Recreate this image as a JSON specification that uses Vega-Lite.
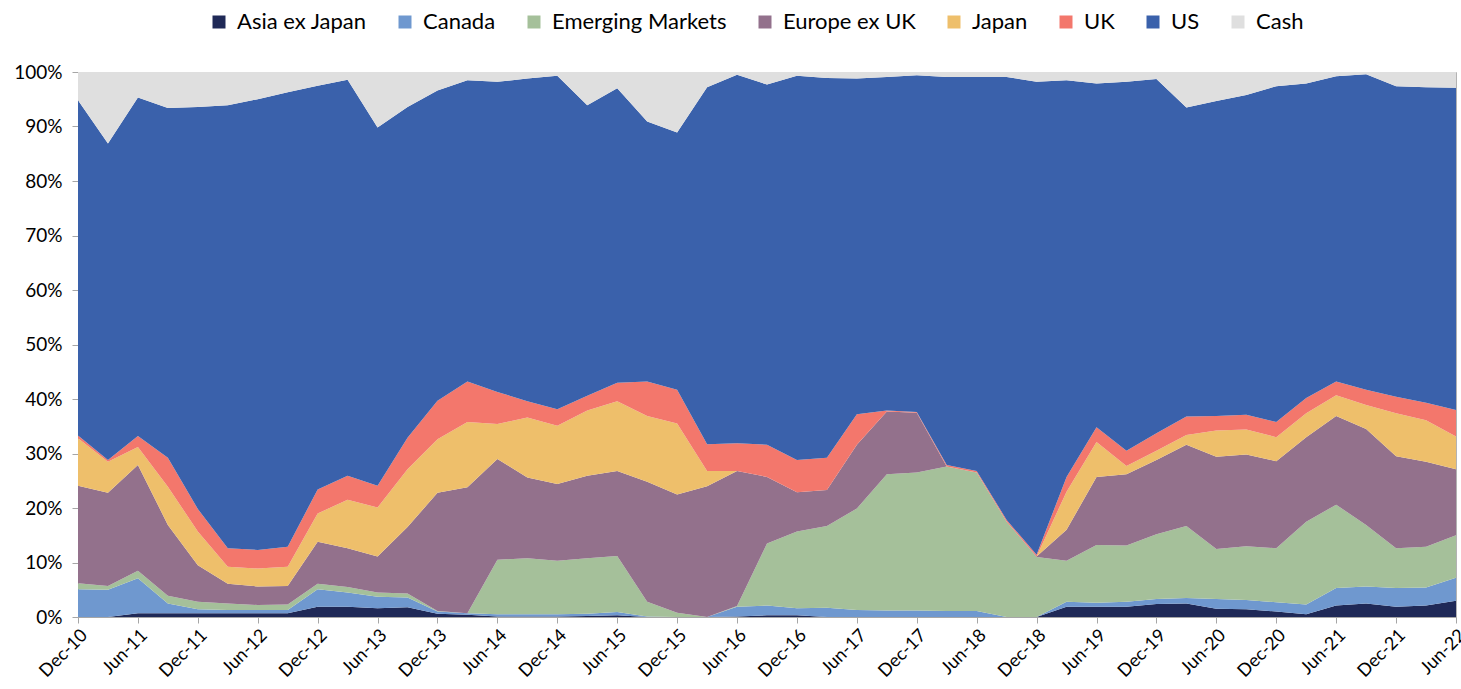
{
"$schema": "https://vega.github.io/schema/vega-lite/v6.json",
"autosize": "none",
"width": 1378,
"height": 545,
"padding": {"left": 78, "top": 72, "right": 5, "bottom": 72},
"background": "white",
"config": {"font": "Lato", "view": {"stroke": "#b3b3b3", "strokeWidth": 1}},
"data": {"values": [
{"date":"Dec-10","Asia ex Japan":0,"Canada":5.1,"Emerging Markets":1.1,"Europe ex UK":17.9,"Japan":8.7,"UK":0.5,"US":61.5,"Cash":5.2},
{"date":"Mar-11","Asia ex Japan":0,"Canada":5.0,"Emerging Markets":0.7,"Europe ex UK":17.1,"Japan":5.7,"UK":0.3,"US":58.1,"Cash":13.1},
{"date":"Jun-11","Asia ex Japan":0.7,"Canada":6.4,"Emerging Markets":1.4,"Europe ex UK":19.4,"Japan":3.3,"UK":2.0,"US":62.1,"Cash":4.7},
{"date":"Sep-11","Asia ex Japan":0.7,"Canada":1.8,"Emerging Markets":1.4,"Europe ex UK":13.0,"Japan":7.0,"UK":5.3,"US":64.2,"Cash":6.6},
{"date":"Dec-11","Asia ex Japan":0.7,"Canada":0.7,"Emerging Markets":1.4,"Europe ex UK":6.7,"Japan":6.2,"UK":4.1,"US":73.8,"Cash":6.4},
{"date":"Mar-12","Asia ex Japan":0.7,"Canada":0.6,"Emerging Markets":1.2,"Europe ex UK":3.6,"Japan":3.1,"UK":3.4,"US":81.3,"Cash":6.1},
{"date":"Jun-12","Asia ex Japan":0.7,"Canada":0.6,"Emerging Markets":0.9,"Europe ex UK":3.4,"Japan":3.3,"UK":3.4,"US":82.7,"Cash":5.0},
{"date":"Sep-12","Asia ex Japan":0.7,"Canada":0.6,"Emerging Markets":1.0,"Europe ex UK":3.4,"Japan":3.5,"UK":3.7,"US":83.4,"Cash":3.7},
{"date":"Dec-12","Asia ex Japan":1.9,"Canada":3.2,"Emerging Markets":1.0,"Europe ex UK":7.7,"Japan":5.2,"UK":4.4,"US":74.1,"Cash":2.5},
{"date":"Mar-13","Asia ex Japan":1.9,"Canada":2.6,"Emerging Markets":1.0,"Europe ex UK":7.1,"Japan":8.9,"UK":4.4,"US":72.7,"Cash":1.4},
{"date":"Jun-13","Asia ex Japan":1.6,"Canada":2.1,"Emerging Markets":0.8,"Europe ex UK":6.6,"Japan":9.0,"UK":4.0,"US":65.7,"Cash":10.2},
{"date":"Sep-13","Asia ex Japan":1.8,"Canada":1.8,"Emerging Markets":0.7,"Europe ex UK":12.2,"Japan":10.6,"UK":5.8,"US":60.7,"Cash":6.4},
{"date":"Dec-13","Asia ex Japan":0.6,"Canada":0.4,"Emerging Markets":0.1,"Europe ex UK":21.7,"Japan":9.8,"UK":7.1,"US":56.9,"Cash":3.4},
{"date":"Mar-14","Asia ex Japan":0.4,"Canada":0.3,"Emerging Markets":0,"Europe ex UK":23.1,"Japan":12.0,"UK":7.4,"US":55.3,"Cash":1.5},
{"date":"Jun-14","Asia ex Japan":0.1,"Canada":0.4,"Emerging Markets":10.0,"Europe ex UK":18.5,"Japan":6.4,"UK":5.9,"US":56.9,"Cash":1.8},
{"date":"Sep-14","Asia ex Japan":0.1,"Canada":0.4,"Emerging Markets":10.3,"Europe ex UK":14.8,"Japan":11.0,"UK":3.0,"US":59.2,"Cash":1.2},
{"date":"Dec-14","Asia ex Japan":0.1,"Canada":0.4,"Emerging Markets":9.8,"Europe ex UK":14.1,"Japan":10.7,"UK":3.0,"US":61.2,"Cash":0.7},
{"date":"Mar-15","Asia ex Japan":0.2,"Canada":0.4,"Emerging Markets":10.2,"Europe ex UK":15.1,"Japan":12.0,"UK":2.7,"US":53.3,"Cash":6.1},
{"date":"Jun-15","Asia ex Japan":0.3,"Canada":0.6,"Emerging Markets":10.3,"Europe ex UK":15.6,"Japan":12.8,"UK":3.4,"US":54.0,"Cash":3.0},
{"date":"Sep-15","Asia ex Japan":0,"Canada":0.1,"Emerging Markets":2.7,"Europe ex UK":22.0,"Japan":12.1,"UK":6.3,"US":47.7,"Cash":9.1},
{"date":"Dec-15","Asia ex Japan":0,"Canada":0,"Emerging Markets":0.8,"Europe ex UK":21.7,"Japan":13.0,"UK":6.2,"US":47.2,"Cash":11.1},
{"date":"Mar-16","Asia ex Japan":0,"Canada":0,"Emerging Markets":0,"Europe ex UK":24.0,"Japan":2.8,"UK":4.9,"US":65.5,"Cash":2.8},
{"date":"Jun-16","Asia ex Japan":0.1,"Canada":1.8,"Emerging Markets":0.1,"Europe ex UK":24.8,"Japan":0,"UK":5.1,"US":67.6,"Cash":0.5},
{"date":"Sep-16","Asia ex Japan":0.3,"Canada":1.8,"Emerging Markets":11.4,"Europe ex UK":12.2,"Japan":0,"UK":5.9,"US":66.1,"Cash":2.3},
{"date":"Dec-16","Asia ex Japan":0.3,"Canada":1.3,"Emerging Markets":14.1,"Europe ex UK":7.2,"Japan":0,"UK":5.9,"US":70.5,"Cash":0.7},
{"date":"Mar-17","Asia ex Japan":0,"Canada":1.7,"Emerging Markets":15.0,"Europe ex UK":6.6,"Japan":0,"UK":5.9,"US":69.7,"Cash":1.1},
{"date":"Jun-17","Asia ex Japan":0,"Canada":1.3,"Emerging Markets":18.6,"Europe ex UK":11.7,"Japan":0,"UK":5.6,"US":61.6,"Cash":1.2},
{"date":"Sep-17","Asia ex Japan":0,"Canada":1.2,"Emerging Markets":25.0,"Europe ex UK":11.5,"Japan":0,"UK":0.2,"US":61.2,"Cash":0.9},
{"date":"Dec-17","Asia ex Japan":0,"Canada":1.2,"Emerging Markets":25.3,"Europe ex UK":11.0,"Japan":0,"UK":0.1,"US":61.8,"Cash":0.6},
{"date":"Mar-18","Asia ex Japan":0,"Canada":1.1,"Emerging Markets":26.5,"Europe ex UK":0,"Japan":0,"UK":0.3,"US":71.2,"Cash":0.9},
{"date":"Jun-18","Asia ex Japan":0,"Canada":1.1,"Emerging Markets":25.4,"Europe ex UK":0,"Japan":0,"UK":0.3,"US":72.3,"Cash":0.9},
{"date":"Sep-18","Asia ex Japan":0,"Canada":0,"Emerging Markets":17.5,"Europe ex UK":0,"Japan":0,"UK":0.3,"US":81.3,"Cash":0.9},
{"date":"Dec-18","Asia ex Japan":0,"Canada":0,"Emerging Markets":11.0,"Europe ex UK":0.1,"Japan":0,"UK":0.3,"US":86.8,"Cash":1.8},
{"date":"Mar-19","Asia ex Japan":1.9,"Canada":0.9,"Emerging Markets":7.5,"Europe ex UK":5.7,"Japan":7.0,"UK":2.7,"US":72.8,"Cash":1.5},
{"date":"Jun-19","Asia ex Japan":1.9,"Canada":0.7,"Emerging Markets":10.6,"Europe ex UK":12.5,"Japan":6.4,"UK":2.7,"US":63.1,"Cash":2.1},
{"date":"Sep-19","Asia ex Japan":1.9,"Canada":0.9,"Emerging Markets":10.3,"Europe ex UK":13.1,"Japan":1.5,"UK":2.8,"US":67.7,"Cash":1.8},
{"date":"Dec-19","Asia ex Japan":2.4,"Canada":0.9,"Emerging Markets":11.9,"Europe ex UK":13.6,"Japan":1.7,"UK":3.2,"US":65.0,"Cash":1.3},
{"date":"Mar-20","Asia ex Japan":2.5,"Canada":1.0,"Emerging Markets":13.2,"Europe ex UK":14.9,"Japan":1.8,"UK":3.4,"US":56.7,"Cash":6.5},
{"date":"Jun-20","Asia ex Japan":1.5,"Canada":1.8,"Emerging Markets":9.2,"Europe ex UK":16.9,"Japan":4.8,"UK":2.7,"US":57.8,"Cash":5.3},
{"date":"Sep-20","Asia ex Japan":1.4,"Canada":1.7,"Emerging Markets":9.9,"Europe ex UK":16.8,"Japan":4.6,"UK":2.7,"US":58.7,"Cash":4.2},
{"date":"Dec-20","Asia ex Japan":1.0,"Canada":1.7,"Emerging Markets":9.9,"Europe ex UK":16.0,"Japan":4.4,"UK":2.8,"US":61.6,"Cash":2.6},
{"date":"Mar-21","Asia ex Japan":0.5,"Canada":1.8,"Emerging Markets":15.2,"Europe ex UK":15.5,"Japan":4.4,"UK":2.8,"US":57.7,"Cash":2.1},
{"date":"Jun-21","Asia ex Japan":2.1,"Canada":3.2,"Emerging Markets":15.3,"Europe ex UK":16.3,"Japan":3.8,"UK":2.5,"US":56.0,"Cash":0.8},
{"date":"Sep-21","Asia ex Japan":2.5,"Canada":3.1,"Emerging Markets":11.3,"Europe ex UK":17.6,"Japan":4.4,"UK":2.8,"US":57.9,"Cash":0.4},
{"date":"Dec-21","Asia ex Japan":1.9,"Canada":3.4,"Emerging Markets":7.3,"Europe ex UK":16.9,"Japan":7.9,"UK":3.0,"US":57.0,"Cash":2.6},
{"date":"Mar-22","Asia ex Japan":2.1,"Canada":3.3,"Emerging Markets":7.5,"Europe ex UK":15.6,"Japan":7.6,"UK":3.2,"US":57.9,"Cash":2.8},
{"date":"Jun-22","Asia ex Japan":3.0,"Canada":4.2,"Emerging Markets":7.8,"Europe ex UK":12.1,"Japan":6.0,"UK":4.9,"US":59.1,"Cash":2.9}
]},
"transform": [
{"fold": ["Asia ex Japan","Canada","Emerging Markets","Europe ex UK","Japan","UK","US","Cash"], "as": ["region","value"]},
{"window": [{"op": "row_number", "as": "rank"}], "groupby": ["date"]}
],
"mark": {"type": "area", "clip": true},
"encoding": {
"x": {"field": "date", "type": "ordinal", "sort": null, "scale": {"type": "point", "padding": 0},
 "axis": {"title": null, "values": ["Dec-10","Jun-11","Dec-11","Jun-12","Dec-12","Jun-13","Dec-13","Jun-14","Dec-14","Jun-15","Dec-15","Jun-16","Dec-16","Jun-17","Dec-17","Jun-18","Dec-18","Jun-19","Dec-19","Jun-20","Dec-20","Jun-21","Dec-21","Jun-22"],
  "labelAngle": -45, "labelFontSize": 18, "labelColor": "#000000", "domainColor": "#a6a6a6", "tickColor": "#a6a6a6", "tickSize": 6, "labelPadding": 3, "labelDx": -2, "labelBound": false, "grid": false}},
"y": {"field": "value", "type": "quantitative", "stack": "zero", "scale": {"domain": [0, 100], "nice": false},
 "axis": {"title": null, "values": [0,10,20,30,40,50,60,70,80,90,100], "labelExpr": "datum.value + '%'", "labelFontSize": 19, "labelColor": "#000000", "domainColor": "#a6a6a6", "tickColor": "#a6a6a6", "tickSize": 6, "labelPadding": 10, "grid": false}},
"color": {"field": "region", "type": "nominal", "sort": ["Asia ex Japan","Canada","Emerging Markets","Europe ex UK","Japan","UK","US","Cash"],
 "scale": {"domain": ["Asia ex Japan","Canada","Emerging Markets","Europe ex UK","Japan","UK","US","Cash"], "range": ["#1f2957","#6f98cf","#a5c09a","#93718c","#eebf6b","#f3776c","#3a61ab","#dfdfdf"]},
 "legend": {"title": null, "orient": "none", "direction": "horizontal", "legendX": 130, "legendY": -61, "symbolType": "square", "symbolSize": 169, "symbolStrokeWidth": 0, "labelFontSize": 22, "labelLimit": 0, "labelColor": "#000000", "columnPadding": 27, "labelOffset": 7}},
"order": {"field": "rank", "type": "quantitative", "sort": "ascending"}
}
}
